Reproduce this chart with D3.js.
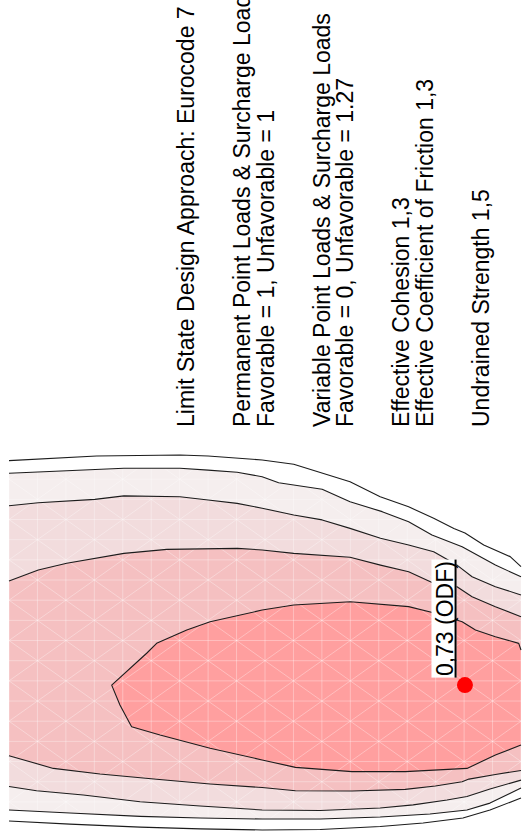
<!DOCTYPE html>
<html>
<head>
<meta charset="utf-8">
<script src="https://cdn.jsdelivr.net/npm/d3@7"></script>
<style>
  html, body { margin: 0; padding: 0; background: #fff; }
  svg { display: block; }
</style>
</head>
<body>
<script>
// Slip-centre grid, in grid units: column c across, row r down.
const gridCols = 18;
const gridRows = 19;

// Factor-of-safety contour lines, outermost first. Each outer contour has an
// upper and a lower branch running from the first column to the last.
const contour1Top = [[0,0.08],[3.08,-0.15],[6.01,-0.20],[7.00,-0.15],[8.90,0.05],[10.01,0.26],[11.99,1.13],[13.05,1.87],[14.05,2.37],[14.93,2.94],[15.64,3.44],[16.03,3.67],[16.69,4.26],[17.62,4.84],[18,5.34]];
const contour1Bottom = [[0,17.95],[2.14,18.10],[4.61,18.25],[6.72,18.34],[8.90,18.39],[10.94,18.37],[13.05,18.22],[14.56,18.05],[15.96,17.80],[16.91,17.40],[18,16.81]];

const contour2Top = [[0,0.71],[2.03,0.58],[4.04,0.46],[6.01,0.46],[7.00,0.55],[8.02,0.66],[8.90,0.88],[9.48,1.18],[11.01,1.50],[11.99,2.12],[13.12,2.61],[14.05,3.11],[14.87,3.77],[15.93,4.35],[17.10,5.26],[18,5.84]];
const contour2Bottom = [[0,17.40],[2.14,17.55],[4.61,17.72],[6.72,17.80],[8.90,17.85],[10.94,17.85],[13.05,17.75],[14.80,17.60],[16.10,17.40],[16.91,17.06],[18,16.31]];

const contour3Top = [[0,2.32],[1.03,2.17],[3.02,2.00],[4.04,1.83],[6.01,1.87],[7.00,2.03],[8.02,2.20],[8.90,2.44],[10.01,2.78],[11.01,3.02],[11.99,3.44],[13.06,3.93],[14.05,4.26],[14.93,4.60],[15.75,5.26],[16.28,5.84],[17.10,6.33],[18,6.74]];
const contour3Bottom = [[0,16.24],[0.97,16.45],[2.61,16.66],[4.61,16.99],[6.72,17.20],[8.90,17.40],[10.94,17.43],[13.05,17.30],[14.21,17.15],[15.40,16.91],[16.10,16.73],[16.91,16.36],[18,15.92]];

const contour4Top = [[0,6.05],[1.03,5.50],[2.03,5.17],[4.04,4.68],[5.55,4.48],[8.03,4.43],[8.90,4.51],[10.01,4.68],[11.99,4.87],[13.06,5.26],[14.05,5.59],[14.93,6.16],[15.75,6.33],[16.28,6.83],[17.10,7.32],[18,7.82]];
const contour4Bottom = [[0,14.71],[1.56,15.34],[3.20,15.62],[5.19,15.88],[7.07,16.11],[8.90,16.29],[10.07,16.45],[12.06,16.46],[13.93,16.38],[14.99,16.21],[15.93,16.00],[16.17,15.87],[17.10,15.64],[18,15.44]];

// Innermost contour: a single loop that opens onto the last column.
const contour5 = [[18,9.47],[17.92,9.14],[17.10,8.81],[16.40,8.48],[15.93,8.07],[14.99,7.65],[14.05,7.32],[12.00,7.08],[10.01,7.24],[8.90,7.49],[7.07,8.07],[6.25,8.48],[5.19,9.14],[4.84,9.63],[3.61,11.21],[3.90,12.20],[4.31,13.27],[5.31,13.68],[7.07,14.34],[8.90,14.92],[10.07,15.29],[12.06,15.50],[13.93,15.50],[16.10,15.34],[17.10,14.68],[18,14.18]];

// Fill of the region inside each contour, outermost first.
const bandColors = ["#ffffff", "#f5eeee", "#f2dcdd", "#f5c0c1", "#ff9f9f"];

// Critical slip centre.
const minCentre = { c: 16.03, r: 11.21, fs: 0.73, tag: "ODF" };

// Analysis notes, in groups.
const noteGroups = [
  ["Limit State Design Approach: Eurocode 7"],
  ["Permanent Point Loads & Surcharge Loads", "Favorable = 1, Unfavorable = 1"],
  ["Variable Point Loads & Surcharge Loads", "Favorable = 0, Unfavorable = 1.27"],
  ["Effective Cohesion 1,3", "Effective Coefficient of Friction 1,3"],
  ["Undrained Strength 1,5"]
];

const W = 524, H = 832;
const FONT = "'Liberation Sans', Arial, Helvetica, sans-serif";

const svg = d3.select("body").append("svg")
  .attr("width", W).attr("height", H)
  .attr("viewBox", `0 0 ${W} ${H}`);

const x = d3.scaleLinear().domain([0, gridCols]).range([9, 521]);
const y = d3.scaleLinear().domain([0, 18]).range([459, 822.06]);

const line = d3.line().x(d => x(d[0])).y(d => y(d[1]));

const outer = [
  [contour1Top, contour1Bottom],
  [contour2Top, contour2Bottom],
  [contour3Top, contour3Bottom],
  [contour4Top, contour4Bottom]
];

// Filled regions
const fills = svg.append("g");
outer.forEach(([top, bottom], i) => {
  fills.append("path")
    .attr("d", line(top.concat(bottom.slice().reverse())) + "Z")
    .attr("fill", bandColors[i]);
});
fills.append("path")
  .attr("d", line(contour5) + "Z")
  .attr("fill", bandColors[4]);

// Slip-centre grid mesh drawn over the fills
const mesh = svg.append("g")
  .attr("stroke", "#fff")
  .attr("stroke-opacity", 0.33)
  .attr("stroke-width", 1)
  .attr("fill", "none");
d3.range(0, gridCols + 1).forEach(k => {
  mesh.append("line").attr("x1", x(k)).attr("x2", x(k)).attr("y1", y(0)).attr("y2", y(gridRows));
});
d3.range(0, gridRows + 1).forEach(j => {
  mesh.append("line").attr("x1", x(0)).attr("x2", x(gridCols)).attr("y1", y(j)).attr("y2", y(j));
});
// diagonals through every other node
for (let s = 1; s <= gridCols + gridRows; s += 2) {
  const k0 = Math.max(0, s - gridRows), k1 = Math.min(gridCols, s);
  if (k1 > k0) mesh.append("line")
    .attr("x1", x(k0)).attr("y1", y(s - k0)).attr("x2", x(k1)).attr("y2", y(s - k1));
}
for (let s = -gridRows; s <= gridCols; s++) {
  if (Math.abs(s) % 2 !== 1) continue;
  const k0 = Math.max(0, s), k1 = Math.min(gridCols, s + gridRows);
  if (k1 > k0) mesh.append("line")
    .attr("x1", x(k0)).attr("y1", y(k0 - s)).attr("x2", x(k1)).attr("y2", y(k1 - s));
}

// Contour lines
const lines = svg.append("g")
  .attr("fill", "none")
  .attr("stroke", "#1c1c1c")
  .attr("stroke-width", 1.1)
  .attr("stroke-linejoin", "round");
outer.forEach(([top, bottom]) => {
  lines.append("path").attr("d", line(top));
  lines.append("path").attr("d", line(bottom));
});
lines.append("path").attr("d", line(contour5));

// Critical centre and its label
const cx = x(minCentre.c), cy = y(minCentre.r);
svg.append("circle")
  .attr("cx", cx).attr("cy", cy).attr("r", 8)
  .attr("fill", "#ff0000");

const fmt = v => d3.format(".2f")(v).replace(".", ",");
const label = svg.append("g")
  .attr("transform", `translate(${cx - 12},${cy - 9}) rotate(-90)`);
const labelText = `${fmt(minCentre.fs)} (${minCentre.tag})`;
const lt = label.append("text")
  .attr("x", 0).attr("y", 0)
  .attr("font-family", FONT)
  .attr("font-size", 23)
  .attr("fill", "#000")
  .text(labelText);
const tw = lt.node().getComputedTextLength();
label.insert("rect", "text")
  .attr("x", -1.5).attr("y", -21.5)
  .attr("width", tw + 3).attr("height", 25)
  .attr("fill", "#fff");
label.append("line")
  .attr("x1", -1.5).attr("x2", tw + 1.5)
  .attr("y1", 2.6).attr("y2", 2.6)
  .attr("stroke", "#000").attr("stroke-width", 2);

// Notes, written bottom-to-top
const notes = svg.append("g")
  .attr("font-family", FONT)
  .attr("font-size", 23)
  .attr("fill", "#000");
const lineStep = 23.5, groupGap = 56, textStart = 427;
let base = 194;
noteGroups.forEach((grp, gi) => {
  if (gi > 0) base += groupGap;
  grp.forEach((t, li) => {
    if (li > 0) base += lineStep;
    notes.append("text")
      .attr("transform", `translate(${base},${textStart}) rotate(-90)`)
      .text(t);
  });
});
</script>
</body>
</html>
